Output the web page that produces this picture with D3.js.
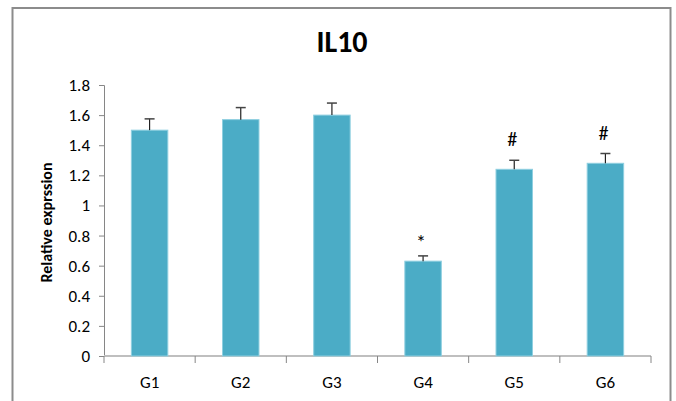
<!DOCTYPE html>
<html>
<head>
<meta charset="utf-8">
<script src="https://cdn.jsdelivr.net/npm/d3@7"></script>
<style>
  body { margin: 0; background: #fff; }
  svg { display: block; font-family: Carlito, Calibri, Lato, sans-serif; }
</style>
</head>
<body>
<div id="chart"></div>
<script>
// data
const groups = ['G1', 'G2', 'G3', 'G4', 'G5', 'G6'];
const values = [1.50, 1.57, 1.60, 0.63, 1.24, 1.28];
const errors = [0.075, 0.08, 0.08, 0.035, 0.06, 0.065];
const marks = ['', '', '', '*', '#', '#'];
const yTicks = [0, 0.2, 0.4, 0.6, 0.8, 1, 1.2, 1.4, 1.6, 1.8];

const width = 676;
const height = 401;
const plot = { left: 104, right: 651, top: 85, bottom: 356 };

const svg = d3.select('#chart')
  .append('svg')
  .attr('width', width)
  .attr('height', height);

// outer chart frame (bottom runs off the picture)
svg.append('rect')
  .attr('x', 12.5)
  .attr('y', 8)
  .attr('width', 658)
  .attr('height', 420)
  .attr('fill', 'none')
  .attr('stroke', '#8c8c8c')
  .attr('stroke-width', 2);

svg.append('text')
  .attr('x', 342)
  .attr('y', 52)
  .attr('text-anchor', 'middle')
  .attr('font-size', 30)
  .attr('font-weight', 'bold')
  .attr('fill', '#000')
  .text('IL10');

const x = d3.scaleBand()
  .domain(groups)
  .range([plot.left, plot.right])
  .paddingInner(0.6)
  .paddingOuter(0.3);

const y = d3.scaleLinear()
  .domain([0, 1.8])
  .range([plot.bottom, plot.top]);

// y axis
const yAxis = svg.append('g')
  .attr('transform', `translate(${plot.left},0)`)
  .call(d3.axisLeft(y).tickValues(yTicks).tickSize(5).tickPadding(9).tickFormat(d3.format('')));
yAxis.select('.domain').attr('stroke', '#868686');
yAxis.selectAll('.tick line').attr('stroke', '#868686');
yAxis.selectAll('.tick text')
  .attr('font-size', 17)
  .attr('fill', '#000')
  .attr('font-family', 'Carlito, Calibri, Lato, sans-serif');

// x axis: ticks sit between categories
const step = (plot.right - plot.left) / groups.length;
svg.append('line')
  .attr('x1', plot.left).attr('x2', plot.right)
  .attr('y1', plot.bottom).attr('y2', plot.bottom)
  .attr('stroke', '#bfbfbf')
  .attr('stroke-width', 2);
svg.selectAll('.xtick')
  .data(d3.range(groups.length + 1))
  .enter()
  .append('line')
  .attr('x1', i => plot.left + i * step)
  .attr('x2', i => plot.left + i * step)
  .attr('y1', plot.bottom)
  .attr('y2', plot.bottom + 7)
  .attr('stroke', '#868686');
svg.selectAll('.xlabel')
  .data(groups)
  .enter()
  .append('text')
  .attr('x', d => x(d) + x.bandwidth() / 2)
  .attr('y', 388)
  .attr('text-anchor', 'middle')
  .attr('font-size', 17)
  .attr('fill', '#000')
  .text(d => d);

svg.append('text')
  .attr('transform', `translate(52,${(plot.top + plot.bottom) / 2 + 2}) rotate(-90)`)
  .attr('text-anchor', 'middle')
  .attr('font-size', 16)
  .attr('font-weight', 'bold')
  .attr('fill', '#000')
  .text('Relative exprssion');

// bars
svg.selectAll('.bar')
  .data(groups)
  .enter()
  .append('rect')
  .attr('x', d => x(d))
  .attr('y', (d, i) => y(values[i]))
  .attr('width', x.bandwidth())
  .attr('height', (d, i) => y(0) - y(values[i]))
  .attr('fill', '#4bacc6')
  .attr('stroke', '#8fcfe0')
  .attr('stroke-width', 1);

// upper error bars
const err = svg.selectAll('.err')
  .data(groups)
  .enter()
  .append('g');
err.append('line')
  .attr('x1', d => x(d) + x.bandwidth() / 2)
  .attr('x2', d => x(d) + x.bandwidth() / 2)
  .attr('y1', (d, i) => y(values[i]))
  .attr('y2', (d, i) => y(values[i] + errors[i]))
  .attr('stroke', '#222')
  .attr('stroke-width', 1.2);
err.append('line')
  .attr('x1', d => x(d) + x.bandwidth() / 2 - 5)
  .attr('x2', d => x(d) + x.bandwidth() / 2 + 5)
  .attr('y1', (d, i) => y(values[i] + errors[i]))
  .attr('y2', (d, i) => y(values[i] + errors[i]))
  .attr('stroke', '#444')
  .attr('stroke-width', 1.5);

// significance marks
svg.selectAll('.mark')
  .data(groups)
  .enter()
  .append('text')
  .attr('x', d => x(d) + x.bandwidth() / 2 - 2)
  .attr('y', (d, i) => y(values[i] + errors[i]) - (marks[i] === '*' ? 7 : 14))
  .attr('text-anchor', 'middle')
  .attr('font-size', (d, i) => marks[i] === '*' ? 20 : 20)
  .attr('fill', '#000')
  .text((d, i) => marks[i]);
</script>
</body>
</html>
